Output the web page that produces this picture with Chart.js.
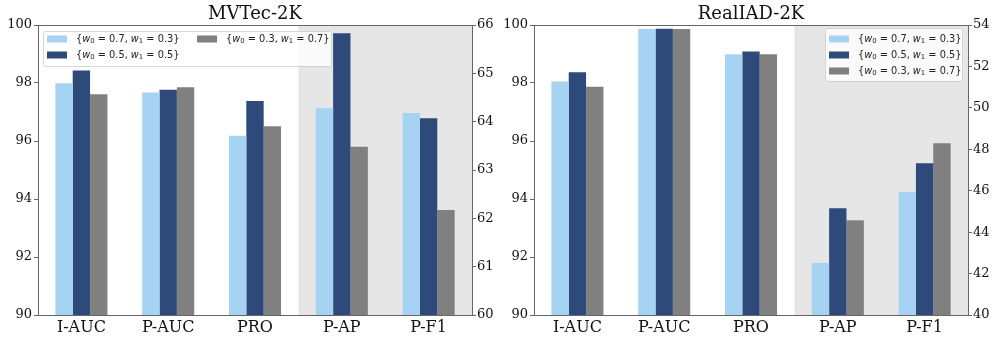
<!DOCTYPE html>
<html>
<head>
<meta charset="utf-8">
<script src="https://cdn.jsdelivr.net/npm/chart.js@4"></script>
<style>
  html, body { margin: 0; padding: 0; background: #fff; }
  .wrap { display: flex; width: 997px; height: 342px; }
  .panel { position: relative; height: 342px; }
  #left { width: 497px; }
  #right { width: 500px; }
</style>
</head>
<body>
<div class="wrap">
  <div class="panel" id="left"><canvas id="mvtecChart"></canvas></div>
  <div class="panel" id="right"><canvas id="realiadChart"></canvas></div>
</div>
<script>
const categories = ['I-AUC', 'P-AUC', 'PRO', 'P-AP', 'P-F1'];
// categories from this index on are read against the right-hand axis
const RIGHT_FROM = 3;

const w0 = [0.7, 0.5, 0.3];
const w1 = [0.3, 0.5, 0.7];

const mvtecA = [97.99, 97.67, 96.18, 64.28, 64.18];
const mvtecB = [98.43, 97.77, 97.38, 65.83, 64.07];
const mvtecC = [97.61, 97.85, 96.51, 63.48, 62.17];

const realA = [98.05, 99.86, 98.99, 42.51, 45.94];
const realB = [98.37, 99.87, 99.09, 45.15, 47.32];
const realC = [97.87, 99.86, 98.99, 44.58, 48.29];

const COLORS = {
  series: ['#a7d3f2', '#2e4a7b', '#808080'],
  shade: '#e6e6e6',
  spine: '#666666',
  text: '#111111',
};

const SERIF = "'DejaVu Serif', serif";
const SANS = "'DejaVu Sans', sans-serif";

function buildDatasets(seriesList) {
  const out = [];
  seriesList.forEach((vals, i) => {
    out.push({
      label: `{w0 = ${w0[i]}, w1 = ${w1[i]}}`,
      data: vals.map((v, k) => (k < RIGHT_FROM ? v : null)),
      backgroundColor: COLORS.series[i],
      yAxisID: 'y',
      skipNull: true,
    });
  });
  seriesList.forEach((vals, i) => {
    out.push({
      label: `{w0 = ${w0[i]}, w1 = ${w1[i]}}`,
      data: vals.map((v, k) => (k >= RIGHT_FROM ? v : null)),
      backgroundColor: COLORS.series[i],
      yAxisID: 'y1',
      skipNull: true,
    });
  });
  return out;
}

function drawMathLabel(ctx, x, y, i) {
  const size = 9.8;
  const segs = [
    ['{', 'n'], ['w', 'i'], ['0', 's'], [` = ${w0[i]}, `, 'n'],
    ['w', 'i'], ['1', 's'], [` = ${w1[i]}}`, 'n'],
  ];
  ctx.textBaseline = 'middle';
  ctx.textAlign = 'left';
  ctx.fillStyle = '#222';
  segs.forEach(([t, kind]) => {
    let dy = 0;
    if (kind === 'i') ctx.font = `italic ${size}px ${SANS}`;
    else if (kind === 's') { ctx.font = `${size * 0.7}px ${SANS}`; dy = 2.5; }
    else ctx.font = `${size}px ${SANS}`;
    ctx.fillText(t, x, y + dy);
    x += ctx.measureText(t).width;
  });
}

const panelDecor = {
  id: 'panelDecor',
  beforeDatasetsDraw(chart) {
    const { ctx, chartArea } = chart;
    const xs = chart.scales.x;
    const start = (xs.getPixelForValue(RIGHT_FROM - 1) + xs.getPixelForValue(RIGHT_FROM)) / 2;
    ctx.save();
    ctx.fillStyle = COLORS.shade;
    ctx.fillRect(start, chartArea.top, chartArea.right - start, chartArea.bottom - chartArea.top);
    ctx.restore();
  },
  afterDatasetsDraw(chart, args, opts) {
    const { ctx, chartArea } = chart;
    ctx.save();
    // top spine
    ctx.strokeStyle = COLORS.spine;
    ctx.lineWidth = 1;
    ctx.beginPath();
    ctx.moveTo(chartArea.left, chartArea.top + 0.5);
    ctx.lineTo(chartArea.right, chartArea.top + 0.5);
    ctx.stroke();

    // legend box
    const lg = opts.legend;
    const bx = lg.anchor === 'left' ? chartArea.left + lg.dx : chartArea.right - lg.dx - lg.w;
    const by = chartArea.top + lg.dy;
    ctx.fillStyle = 'rgba(255,255,255,0.8)';
    ctx.strokeStyle = 'rgba(204,204,204,0.8)';
    ctx.beginPath();
    ctx.roundRect(bx + 0.5, by + 0.5, lg.w, lg.h, 2);
    ctx.fill();
    ctx.stroke();
    lg.items.forEach(([i, px, py]) => {
      ctx.fillStyle = COLORS.series[i];
      ctx.fillRect(bx + px, by + py - 3.5, 20, 7);
      drawMathLabel(ctx, bx + px + 29, by + py, i);
    });
    ctx.restore();
  },
};

function makeChart(canvasId, title, seriesList, right, widths, legend) {
  const tickFont = { family: SERIF, size: 13 };
  return new Chart(document.getElementById(canvasId), {
    type: 'bar',
    data: { labels: categories, datasets: buildDatasets(seriesList) },
    plugins: [panelDecor],
    options: {
      responsive: true,
      maintainAspectRatio: false,
      animation: false,
      layout: { padding: 0 },
      categoryPercentage: 0.6,
      barPercentage: 1.0,
      plugins: {
        legend: { display: false },
        tooltip: { enabled: false },
        title: {
          display: true,
          text: title,
          fullSize: false,
          color: COLORS.text,
          font: { family: SERIF, size: 18, weight: 'normal', lineHeight: 1 },
          padding: { top: 5, bottom: 2 },
        },
        panelDecor: { legend },
      },
      scales: {
        x: {
          grid: { display: false, drawTicks: false },
          border: { display: true, color: COLORS.spine },
          ticks: { color: COLORS.text, font: { family: SERIF, size: 16 }, padding: 3 },
          afterFit(s) { s.height = 27; },
        },
        y: {
          position: 'left',
          min: 90,
          max: 100,
          ticks: { stepSize: 2, color: COLORS.text, font: tickFont, padding: 2 },
          grid: { drawOnChartArea: false, tickLength: 4, tickColor: COLORS.spine },
          border: { color: COLORS.spine },
          afterFit(s) { s.width = widths[0]; },
        },
        y1: {
          position: 'right',
          min: right.min,
          max: right.max,
          ticks: { stepSize: right.step, color: COLORS.text, font: tickFont, padding: 1 },
          grid: { drawOnChartArea: false, tickLength: 4, tickColor: COLORS.spine },
          border: { color: COLORS.spine },
          afterFit(s) { s.width = widths[1]; },
        },
      },
    },
  });
}

makeChart('mvtecChart', 'MVTec-2K', [mvtecA, mvtecB, mvtecC],
  { min: 60, max: 66, step: 1 }, [38, 25],
  { anchor: 'left', dx: 5, dy: 6, w: 288, h: 35, items: [[0, 4, 8], [1, 4, 24], [2, 154, 8]] });

makeChart('realiadChart', 'RealIAD-2K', [realA, realB, realC],
  { min: 40, max: 54, step: 2 }, [37, 29],
  { anchor: 'right', dx: 6, dy: 3, w: 137, h: 53, items: [[0, 4, 11], [1, 4, 27], [2, 4, 43]] });
</script>
</body>
</html>
